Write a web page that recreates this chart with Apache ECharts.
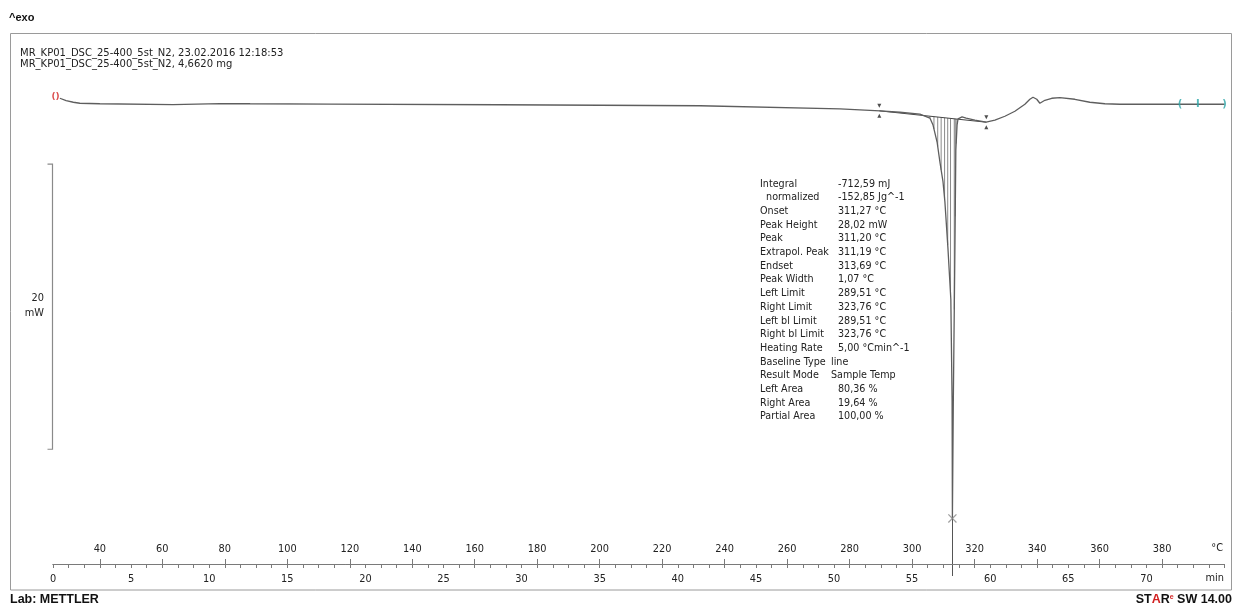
<!DOCTYPE html>
<html>
<head>
<meta charset="utf-8">
<script src="https://cdn.jsdelivr.net/npm/echarts@6/dist/echarts.min.js"></script>
<style>
html,body{margin:0;padding:0;background:#fff;}
#c{width:1234px;height:606px;}
</style>
</head>
<body>
<div id="c"></div>
<script>
// ---------- data ----------
const tempTicks = [40, 60, 80, 100, 120, 140, 160, 180, 200, 220, 240, 260, 280, 300, 320, 340, 360, 380];
const timeTicks = [0, 5, 10, 15, 20, 25, 30, 35, 40, 45, 50, 55, 60, 65, 70];
// DSC curve: temperature (°C) and heat flow (mW, exo up)
const curveT = [27.2, 29.2, 31.5, 33.6, 40.0, 63.4, 78.5, 88.1, 113.7, 168.1, 232.1, 276.9, 289.7, 296.1, 302.5,
  305.7, 306.7, 308.0, 308.9, 309.9, 310.5, 311.5, 312.4, 312.8, 312.9, 313.2, 313.7, 314.0, 314.4, 314.7,
  316.0, 317.3, 320.1, 323.7, 326.5, 329.7, 332.9, 336.1, 337.7, 338.7, 339.9, 340.9, 342.5, 344.7, 347.3,
  352.1, 356.9, 361.7, 366.5, 380.0, 400.0];
const curveMW = [0.42, 0.25, 0.14, 0.07, 0.035, -0.02, 0.05, 0.035, 0.014, -0.035, -0.105, -0.32, -0.46, -0.56, -0.69,
  -0.97, -1.46, -2.65, -4.05, -5.45, -6.85, -10.2, -13.7, -20.7, -29.05, -20.7, -10.2, -3.2, -1.45, -1.03,
  -0.89, -0.98, -1.12, -1.26, -1.12, -0.84, -0.49, 0.0, 0.35, 0.49, 0.35, 0.07, 0.28, 0.42, 0.46,
  0.35, 0.14, 0.035, 0.0, 0.0, 0.0];
const limitT = [289.51, 323.76];
const limitMW = [-0.46, -1.26];
const hatchT = [305.7, 307.0, 308.2, 309.3, 310.4, 311.4, 312.3, 313.5, 313.8, 314.1];
const peakT = 312.9;
const peakMW = -29.05;
const startMarkT = 25.8, startMarkMW = 0.5;
const endMarkT = [385.8, 391.5, 400.0];
const endMarkText = ['(', 'I', ')'];
const scaleTopMW = -4.2, scaleSpanMW = 20;
const headerLines = ['MR_KP01_DSC_25-400_5st_N2, 23.02.2016 12:18:53', 'MR_KP01_DSC_25-400_5st_N2, 4,6620 mg'];
const annotLabels = ['Integral', '  normalized', 'Onset', 'Peak Height', 'Peak', 'Extrapol. Peak', 'Endset', 'Peak Width',
  'Left Limit', 'Right Limit', 'Left bl Limit', 'Right bl Limit', 'Heating Rate', 'Baseline Type', 'Result Mode',
  'Left Area', 'Right Area', 'Partial Area'];
const annotValues = ['-712,59 mJ', '-152,85 Jg^-1', '311,27 °C', '28,02 mW', '311,20 °C', '311,19 °C', '313,69 °C', '1,07 °C',
  '289,51 °C', '323,76 °C', '289,51 °C', '323,76 °C', '5,00 °Cmin^-1', 'line', 'Sample Temp',
  '80,36 %', '19,64 %', '100,00 %'];

// ---------- helpers ----------
function interp(xs, ys, x) {
  for (let i = 0; i < xs.length - 1; i++) {
    if (x >= xs[i] && x <= xs[i + 1]) {
      const f = (x - xs[i]) / (xs[i + 1] - xs[i]);
      return ys[i] + f * (ys[i + 1] - ys[i]);
    }
  }
  return ys[ys.length - 1];
}
const curveData = curveT.map((t, i) => [t, curveMW[i]]);
const minuteTicks = [];
for (let m = 0; m <= 75; m++) minuteTicks.push(m);

const FONT = '"DejaVu Sans", Verdana, sans-serif';
const chart = echarts.init(document.getElementById('c'), null, {renderer: 'canvas'});

const option = {
  animation: false,
  backgroundColor: '#fff',
  grid: {left: 53, right: 9.5, top: 90, bottom: 42, containLabel: false},
  xAxis: [
    {
      type: 'value', min: 25, max: 400, position: 'bottom',
      axisLine: {show: true, onZero: false, lineStyle: {color: '#7a7a7a', width: 1}},
      axisTick: {show: true, inside: true, length: 5, customValues: tempTicks, lineStyle: {color: '#7a7a7a'}},
      axisLabel: {inside: true, margin: 10, customValues: tempTicks, color: '#222', fontSize: 9.8, fontFamily: FONT},
      splitLine: {show: false}
    },
    {
      type: 'value', min: 0, max: 75, position: 'bottom',
      axisLine: {show: true, onZero: false, lineStyle: {color: '#7a7a7a', width: 1}},
      axisTick: {show: true, inside: false, length: 4, customValues: minuteTicks, lineStyle: {color: '#7a7a7a'}},
      axisLabel: {margin: 10, customValues: timeTicks, color: '#222', fontSize: 9.8, fontFamily: FONT},
      splitLine: {show: false}
    }
  ],
  yAxis: {type: 'value', min: -32.25, max: 1, show: false},
  series: [
    {
      type: 'line', xAxisIndex: 0, data: curveData, showSymbol: false, symbol: 'none',
      lineStyle: {color: '#5e5e5e', width: 1.3}, z: 5
    },
    {
      type: 'line', xAxisIndex: 0, data: limitT.map((t, i) => [t, limitMW[i]]), showSymbol: false, symbol: 'none',
      lineStyle: {color: '#444', width: 1}, z: 4
    },
    {
      type: 'custom', xAxisIndex: 0, data: hatchT.map(t => [t, interp(limitT, limitMW, t)]),
      renderItem: function (params, api) {
        const t = api.value(0);
        const p1 = api.coord([t, api.value(1)]);
        const p2 = api.coord([t, interp(curveT, curveMW, t)]);
        return {type: 'line', shape: {x1: p1[0], y1: p1[1], x2: p2[0], y2: p2[1]}, style: {stroke: '#8a8a8a', lineWidth: 1}};
      },
      z: 3
    },
    {
      type: 'scatter', xAxisIndex: 0, data: limitT.map((t, i) => [t, limitMW[i]]),
      symbol: 'triangle', symbolRotate: 180, symbolSize: 4, symbolOffset: [0, -5],
      itemStyle: {color: '#222'}, z: 6
    },
    {
      type: 'scatter', xAxisIndex: 0, data: limitT.map((t, i) => [t, limitMW[i]]),
      symbol: 'triangle', symbolSize: 4, symbolOffset: [0, 5],
      itemStyle: {color: '#222'}, z: 6
    },
    {
      type: 'scatter', xAxisIndex: 0, data: [[peakT, peakMW]],
      symbol: 'path://M0,1L1,0L5,4L9,0L10,1L6,5L10,9L9,10L5,6L1,10L0,9L4,5Z', symbolSize: 9,
      itemStyle: {color: '#888'}, z: 6
    },
    {
      type: 'scatter', xAxisIndex: 0, data: [[startMarkT, startMarkMW]], symbolSize: 0,
      label: {show: true, position: 'inside', formatter: '()', color: '#d21f1f', fontSize: 9, fontWeight: 'bold', fontFamily: FONT},
      z: 7
    },
    {
      type: 'scatter', xAxisIndex: 0, data: endMarkT.map(t => [t, 0]), symbolSize: 0,
      label: {show: true, position: 'inside', formatter: p => endMarkText[p.dataIndex], color: '#2aa5a8', fontSize: 10, fontWeight: 'bold', fontFamily: FONT},
      z: 7
    }
  ]
};
chart.setOption(option);

// ---------- graphics (layout) ----------
const g = [];
g.push({type: 'rect', shape: {x: 10.5, y: 33.5, width: 1221, height: 556.5}, style: {fill: 'none', stroke: '#9a9a9a', lineWidth: 1}, silent: true, z: 0});
g.push({type: 'text', x: 9, y: 18, style: {text: '^exo', font: 'bold 11px "Liberation Sans", Arial, sans-serif', fill: '#111', verticalAlign: 'middle'}});
headerLines.forEach((s, i) => {
  g.push({type: 'text', x: 20, y: 53 + i * 11, style: {text: s, font: '10px ' + FONT, fill: '#222', verticalAlign: 'middle'}});
});
g.push({type: 'text', x: 10, y: 600, style: {text: 'Lab: METTLER', font: 'bold 12.5px "Liberation Sans", Arial, sans-serif', fill: '#111', verticalAlign: 'middle'}});
g.push({type: 'text', x: 1232, y: 600, style: {
  text: '{b|ST}{r|A}{b|R}{s|e}{b| SW 14.00}', align: 'right', verticalAlign: 'middle',
  rich: {
    b: {font: 'bold 12.5px "Liberation Sans", Arial, sans-serif', fill: '#111'},
    r: {font: 'bold 12.5px "Liberation Sans", Arial, sans-serif', fill: '#d21f1f'},
    s: {font: 'bold 7px "Liberation Sans", Arial, sans-serif', fill: '#d21f1f', verticalAlign: 'top'}
  }
}});
// axis units
g.push({type: 'text', x: 1223, y: 548, style: {text: '°C', font: '9.8px ' + FONT, fill: '#222', align: 'right', verticalAlign: 'middle'}});
g.push({type: 'text', x: 1224, y: 578.5, style: {text: 'min', font: '9.8px ' + FONT, fill: '#222', align: 'right', verticalAlign: 'middle'}});
// annotation block
annotLabels.forEach((s, i) => {
  const y = 184 + i * 13.7;
  g.push({type: 'text', x: 760, y: y, style: {text: s, font: '9.6px ' + FONT, fill: '#222', verticalAlign: 'middle'}});
  const vx = (i === 13 || i === 14) ? 831 : 838;
  g.push({type: 'text', x: vx, y: y, style: {text: annotValues[i], font: '9.6px ' + FONT, fill: '#222', verticalAlign: 'middle'}});
});
// scale bar (20 mW) from the y scale
const pTop = chart.convertToPixel({gridIndex: 0}, [25, scaleTopMW]);
const pBot = chart.convertToPixel({gridIndex: 0}, [25, scaleTopMW - scaleSpanMW]);
const sx = 52.5;
g.push({type: 'polyline', shape: {points: [[sx - 5, pTop[1]], [sx, pTop[1]], [sx, pBot[1]], [sx - 5, pBot[1]]]}, style: {stroke: '#8a8a8a', lineWidth: 1.2, fill: 'none'}});
const midY = (pTop[1] + pBot[1]) / 2;
g.push({type: 'text', x: 44, y: midY - 8, style: {text: String(scaleSpanMW), font: '9.8px ' + FONT, fill: '#222', align: 'right', verticalAlign: 'middle'}});
g.push({type: 'text', x: 44, y: midY + 7, style: {text: 'mW', font: '9.8px ' + FONT, fill: '#222', align: 'right', verticalAlign: 'middle'}});
// cursor line from the peak through the axis
const pk = chart.convertToPixel({gridIndex: 0}, [peakT, peakMW]);
g.push({type: 'line', shape: {x1: Math.round(pk[0]) + 0.5, y1: pk[1], x2: Math.round(pk[0]) + 0.5, y2: 576}, style: {stroke: '#555', lineWidth: 1}});
chart.setOption({graphic: g});
</script>
</body>
</html>
